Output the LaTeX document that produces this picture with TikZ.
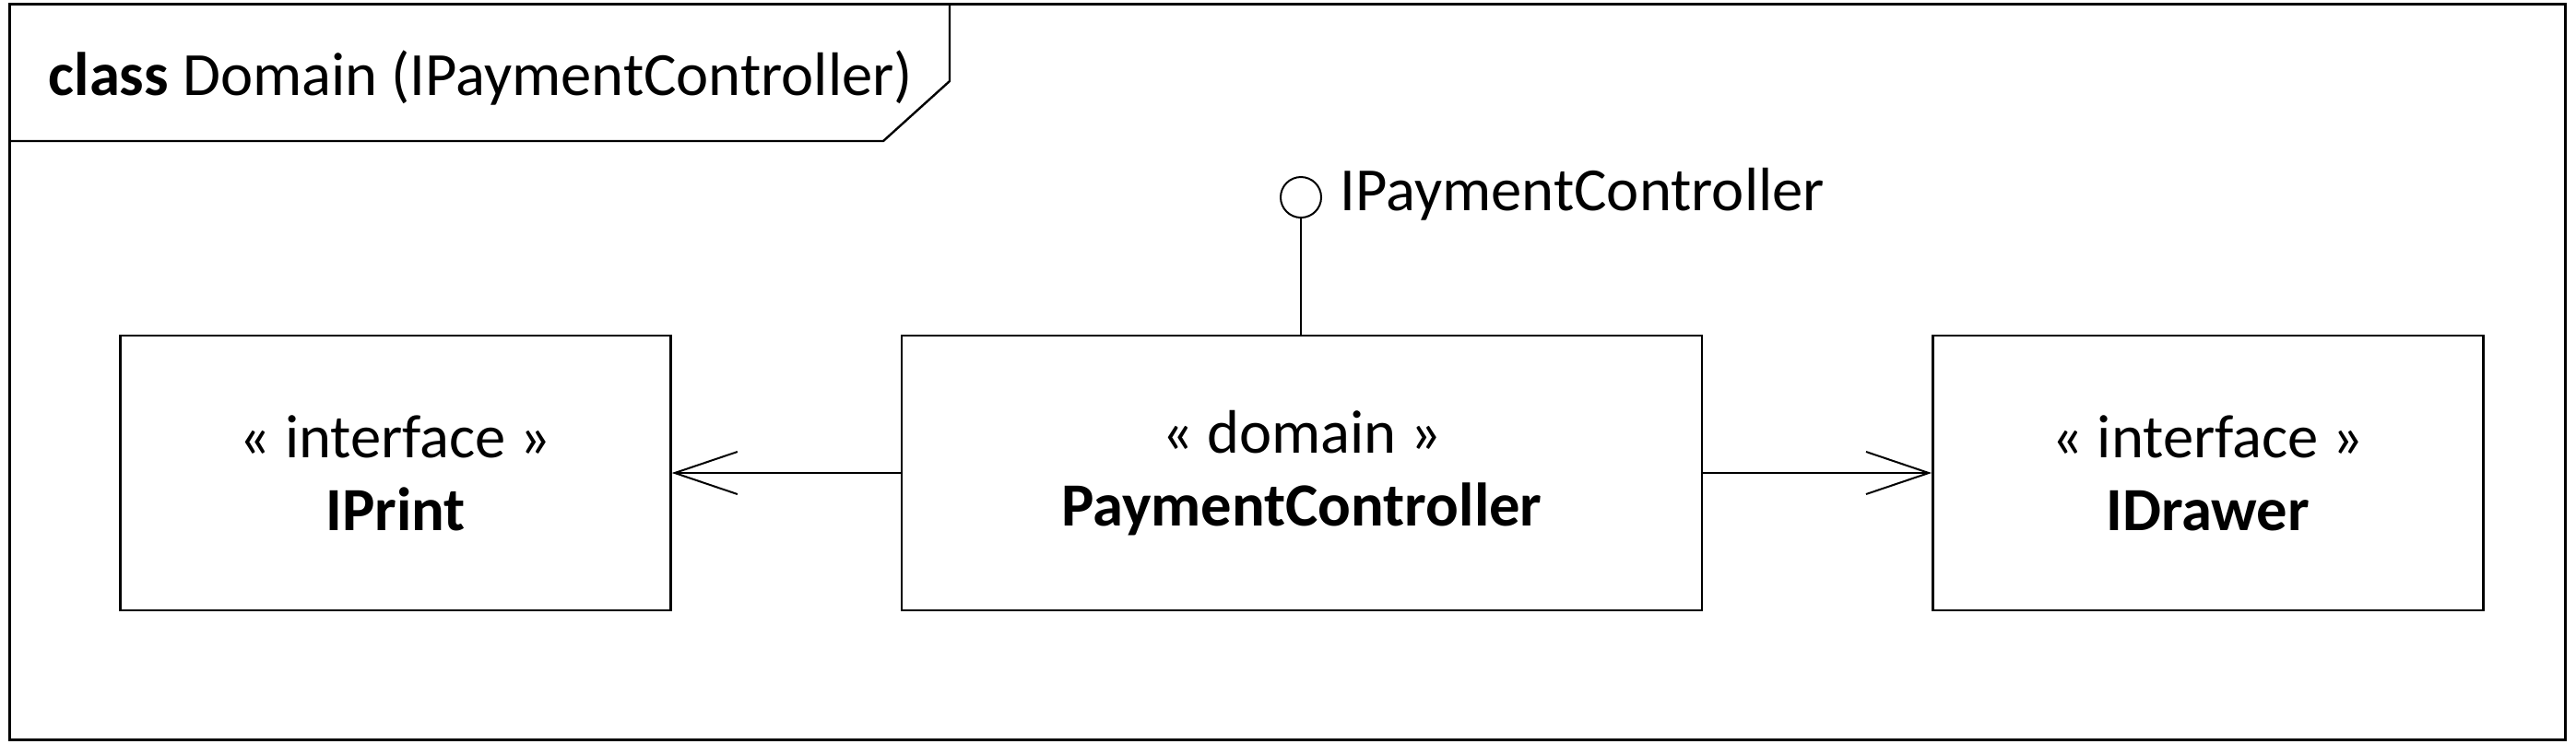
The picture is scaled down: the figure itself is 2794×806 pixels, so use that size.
\documentclass[tikz,border=0pt]{standalone}
\usepackage{fontspec}
\setmainfont{Carlito}
\usepackage{tikz}
\usetikzlibrary{positioning, shapes, calc, arrows.meta}

\begin{document}
\begin{tikzpicture}[x=0.25pt, y=-0.25pt, every node/.style={font=\fontsize{16.65}{19.75}\selectfont}]
		\tikzstyle{umlbox}=[draw=black, line width=0.6pt, minimum width=149.25pt, minimum height=74.5pt, inner sep=0pt, align=center]
		\tikzstyle{assoc}=[draw=black, line width=0.5pt, -{Straight Barb[length=17pt, width=11.5pt, line width=0.5pt]}]
		
		\useasboundingbox (0,0) rectangle (2794,806);
		
		% frame and its name tab
		\draw[line width=0.75pt] (10,4) rectangle (2782,802);
		\draw[line width=0.6pt] (10,153) -- (958,153) -- (1030,88) -- (1030,4);
		\node (title) at (52,103) [anchor=base west, inner sep=0pt] {\textbf{class} Domain (IPaymentController)};
		
		\node (iprint) at (429,513) [umlbox] {« interface »\\\textbf{IPrint}};
		\node (ctrl) [umlbox, minimum width=217pt, right=62pt of iprint] {« domain »\\\textbf{PaymentController}};
		\node (idrawer) [umlbox, right=62pt of ctrl] {« interface »\\\textbf{IDrawer}};
		
		\node (lolli) at (1411,214) [circle, draw=black, line width=0.5pt, minimum size=11pt, inner sep=0pt] {};
		\node (lbl) at ($(lolli.east)+(19,14)$) [anchor=base west, inner sep=0pt] {IPaymentController};
		
		\draw[line width=0.5pt] (lolli.south) -- (lolli.south |- ctrl.north);
		\draw[assoc] (ctrl.west) -- (iprint.east);
		\draw[assoc] (ctrl.east) -- (idrawer.west);
		
\end{tikzpicture}
\end{document}
